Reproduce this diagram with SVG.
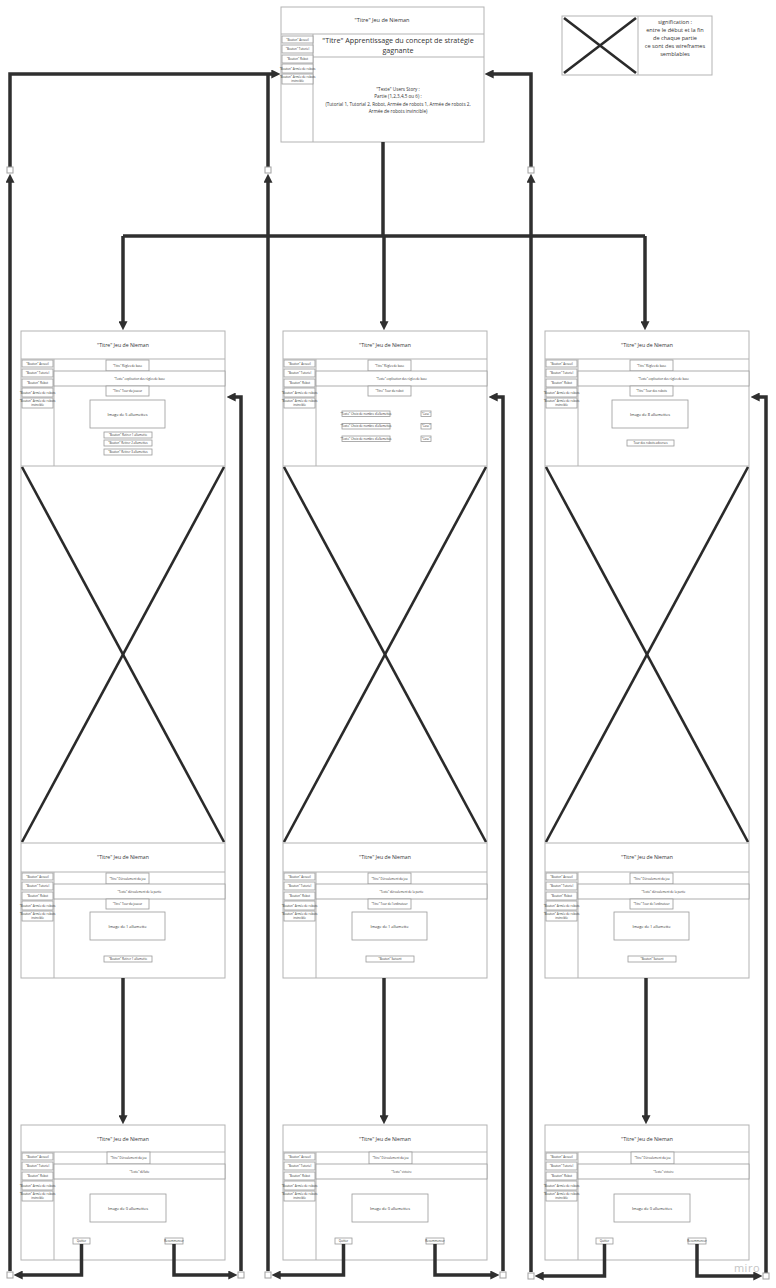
<svg xmlns="http://www.w3.org/2000/svg" width="776" height="1288" viewBox="0 0 776 1288">
<style>
.fr{fill:#fff;stroke:#b3b3b3;stroke-width:1}
.ln{stroke:#b3b3b3;stroke-width:1;fill:none}
.bx{fill:#fff;stroke:#9a9a9a;stroke-width:0.8}
.t{font-family:"Open Sans","Liberation Sans",sans-serif;fill:#333;text-anchor:middle}
.xs{font-size:2.9px}
.sm{font-size:3.3px}
.im{font-size:3.9px}
.ti{font-size:5.2px}
.con{stroke:#2f2f2f;stroke-width:3.5;fill:none}
.cr{stroke:#2a2a2a;stroke-width:2.6}
.sq{fill:#fff;stroke:#a0a0a0;stroke-width:1}
</style>
<defs>
<marker id="ah" viewBox="0 0 10 10" refX="3" refY="5" markerWidth="9" markerHeight="9" markerUnits="userSpaceOnUse" orient="auto"><path d="M0,0 L10,5 L0,10 z" fill="#2f2f2f"/></marker>
<g id="side">
<rect class="bx" x="1" y="0" width="31" height="7"/>
<rect class="bx" x="1" y="9" width="31" height="8"/>
<rect class="bx" x="1" y="19" width="31" height="8"/>
<rect class="bx" x="1" y="28" width="31" height="9"/>
<rect class="bx" x="1" y="38" width="31" height="10"/>
<text class="t xs" x="16.5" y="4.6">"Bouton" Accueil</text>
<text class="t xs" x="16.5" y="14">"Bouton" Tutoriel</text>
<text class="t xs" x="16.5" y="24">"Bouton" Robot</text>
<text class="t xs" x="16.5" y="33.5">"Bouton" Armée de robots</text>
<text class="t xs" x="16.5" y="42">"Bouton" Armée de robots</text>
<text class="t xs" x="16.5" y="46">invincible</text>
</g>
<g id="head">
<rect class="fr" x="0" y="0" width="204" height="0"/>
<text class="t ti" x="102" y="17">"Titre" Jeu de Nieman</text>
<line class="ln" x1="0" y1="28" x2="204" y2="28"/>
</g>
</defs>

<g id="main">
<rect class="fr" x="281" y="7" width="203" height="135"/>
<text class="t" style="font-size:5.5px" x="382" y="22">"Titre" Jeu de Nieman</text>
<line class="ln" x1="281" y1="34" x2="484" y2="34"/>
<line class="ln" x1="313" y1="34" x2="313" y2="142"/>
<line class="ln" x1="313" y1="57" x2="484" y2="57"/>
<use href="#side" transform="translate(281,36)"/>
<text class="t" style="font-size:7.2px" x="398" y="43">"Titre" Apprentissage du concept de stratégie</text>
<text class="t" style="font-size:7.2px" x="398" y="53">gagnante</text>
<text class="t" style="font-size:4.6px" x="398" y="91">"Texte" Users Story :</text>
<text class="t" style="font-size:4.6px" x="398" y="98">Partie (1,2,3,4,5 ou 6) :</text>
<text class="t" style="font-size:4.6px" x="398" y="105.5">(Tutorial 1, Tutorial 2, Robot, Armée de robots 1, Armée de robots 2,</text>
<text class="t" style="font-size:4.6px" x="398" y="113">Armée de robots invincible)</text>
</g>

<g id="legend">
<rect class="fr" x="562" y="16" width="150" height="59"/>
<line class="ln" x1="638" y1="16" x2="638" y2="75"/>
<line class="cr" x1="564" y1="18" x2="636" y2="73"/>
<line class="cr" x1="636" y1="18" x2="564" y2="73"/>
<text class="t" style="font-size:5.6px" x="675" y="24">signification :</text>
<text class="t" style="font-size:5.6px" x="675" y="32">entre le début et la fin</text>
<text class="t" style="font-size:5.6px" x="675" y="40">de chaque partie</text>
<text class="t" style="font-size:5.6px" x="675" y="48">ce sont des wireframes</text>
<text class="t" style="font-size:5.6px" x="675" y="56">semblables</text>
</g>

<!-- Left column upper frame -->
<g id="left-upper" transform="translate(21,0)">
<rect class="fr" x="0" y="331" width="204" height="647"/>
<text class="t ti" x="102" y="347">"Titre" Jeu de Nieman</text>
<line class="ln" x1="0" y1="359" x2="204" y2="359"/>
<line class="ln" x1="33" y1="359" x2="33" y2="466"/>
<use href="#side" transform="translate(0,360)"/>
<rect class="bx" x="85" y="360" width="43" height="11"/>
<text class="t xs" x="106.5" y="366.5">"Titre" Règles de base</text>
<rect class="bx" x="33" y="371" width="171" height="15"/>
<text class="t xs" x="118.5" y="379.5">"Texte" explication des règles de base</text>
<rect class="bx" x="85" y="386" width="43" height="10"/>
<text class="t xs" x="106.5" y="392">"Titre" Tour du joueur</text>
<rect class="bx" x="69" y="400" width="75" height="28"/>
<text class="t im" x="106.5" y="415.5">Image de 5 allumettes</text>
<rect class="bx" x="83" y="432" width="48" height="6"/>
<rect class="bx" x="83" y="440" width="48" height="6"/>
<rect class="bx" x="83" y="449" width="48" height="6"/>
<text class="t xs" x="107" y="436">"Bouton" Retirer 1 allumette</text>
<text class="t xs" x="107" y="444">"Bouton" Retirer 2 allumettes</text>
<text class="t xs" x="107" y="453">"Bouton" Retirer 3 allumettes</text>
<line class="ln" x1="0" y1="466" x2="204" y2="466"/>
<line class="cr" x1="1" y1="467" x2="203" y2="842"/>
<line class="cr" x1="203" y1="467" x2="1" y2="842"/>
<line class="ln" x1="0" y1="843" x2="204" y2="843"/>
<text class="t ti" x="102" y="859">"Titre" Jeu de Nieman</text>
<line class="ln" x1="0" y1="872" x2="204" y2="872"/>
<line class="ln" x1="33" y1="872" x2="33" y2="978"/>
<use href="#side" transform="translate(0,873)"/>
<rect class="bx" x="85" y="873" width="43" height="11"/>
<text class="t xs" x="106.5" y="879.5">"Titre" Déroulement du jeu</text>
<rect class="bx" x="33" y="884" width="171" height="15"/>
<text class="t xs" x="118.5" y="892.5">"Texte" déroulement de la partie</text>
<rect class="bx" x="85" y="899" width="43" height="10"/>
<text class="t xs" x="106.5" y="905">"Titre" Tour du joueur</text>
<rect class="bx" x="69" y="912" width="75" height="28"/>
<text class="t im" x="106.5" y="927.5">Image de 1 allumette</text>
<rect class="bx" x="83" y="956" width="48" height="6"/>
<text class="t xs" x="107" y="960">"Bouton" Retirer 1 allumette</text>
</g>

<!-- Middle column upper frame -->
<g id="middle-upper" transform="translate(283,0)">
<rect class="fr" x="0" y="331" width="204" height="647"/>
<text class="t ti" x="102" y="347">"Titre" Jeu de Nieman</text>
<line class="ln" x1="0" y1="359" x2="204" y2="359"/>
<line class="ln" x1="33" y1="359" x2="33" y2="466"/>
<use href="#side" transform="translate(0,360)"/>
<rect class="bx" x="85" y="360" width="43" height="11"/>
<text class="t xs" x="106.5" y="366.5">"Titre" Règles de base</text>
<rect class="bx" x="33" y="371" width="171" height="15"/>
<text class="t xs" x="118.5" y="379.5">"Texte" explication des règles de base</text>
<rect class="bx" x="85" y="386" width="43" height="10"/>
<text class="t xs" x="106.5" y="392">"Titre" Tour du robot</text>
<rect class="bx" x="59" y="411" width="48" height="5.5"/>
<rect class="bx" x="59" y="423.5" width="48" height="5.5"/>
<rect class="bx" x="59" y="436" width="48" height="5.5"/>
<text class="t xs" x="83" y="414.8">"Texte" Choix de nombre d'allumettes</text>
<text class="t xs" x="83" y="427.3">"Texte" Choix de nombre d'allumettes</text>
<text class="t xs" x="83" y="439.8">"Texte" Choix de nombre d'allumettes</text>
<rect class="bx" x="138" y="411" width="10" height="5.5"/>
<rect class="bx" x="138" y="423.5" width="10" height="5.5"/>
<rect class="bx" x="138" y="436" width="10" height="5.5"/>
<text class="t xs" x="143" y="414.8">"Case"</text>
<text class="t xs" x="143" y="427.3">"Case"</text>
<text class="t xs" x="143" y="439.8">"Case"</text>
<line class="ln" x1="0" y1="466" x2="204" y2="466"/>
<line class="cr" x1="1" y1="467" x2="203" y2="842"/>
<line class="cr" x1="203" y1="467" x2="1" y2="842"/>
<line class="ln" x1="0" y1="843" x2="204" y2="843"/>
<text class="t ti" x="102" y="859">"Titre" Jeu de Nieman</text>
<line class="ln" x1="0" y1="872" x2="204" y2="872"/>
<line class="ln" x1="33" y1="872" x2="33" y2="978"/>
<use href="#side" transform="translate(0,873)"/>
<rect class="bx" x="85" y="873" width="43" height="11"/>
<text class="t xs" x="106.5" y="879.5">"Titre" Déroulement du jeu</text>
<rect class="bx" x="33" y="884" width="171" height="15"/>
<text class="t xs" x="118.5" y="892.5">"Texte" déroulement de la partie</text>
<rect class="bx" x="85" y="899" width="43" height="10"/>
<text class="t xs" x="106.5" y="905">"Titre" Tour de l'ordinateur</text>
<rect class="bx" x="69" y="912" width="75" height="28"/>
<text class="t im" x="106.5" y="927.5">Image de 1 allumette</text>
<rect class="bx" x="83" y="956" width="48" height="6"/>
<text class="t xs" x="107" y="960">"Bouton" Suivant</text>
</g>

<!-- Right column upper frame -->
<g id="right-upper" transform="translate(545,0)">
<rect class="fr" x="0" y="331" width="204" height="647"/>
<text class="t ti" x="102" y="347">"Titre" Jeu de Nieman</text>
<line class="ln" x1="0" y1="359" x2="204" y2="359"/>
<line class="ln" x1="33" y1="359" x2="33" y2="466"/>
<use href="#side" transform="translate(0,360)"/>
<rect class="bx" x="85" y="360" width="43" height="11"/>
<text class="t xs" x="106.5" y="366.5">"Titre" Règles de base</text>
<rect class="bx" x="33" y="371" width="171" height="15"/>
<text class="t xs" x="118.5" y="379.5">"Texte" explication des règles de base</text>
<rect class="bx" x="85" y="386" width="43" height="10"/>
<text class="t xs" x="106.5" y="392">"Titre" Tour des robots</text>
<rect class="bx" x="67" y="400" width="76" height="28"/>
<text class="t im" x="105" y="415.5">Image de 8 allumettes</text>
<rect class="bx" x="82" y="440" width="47" height="6"/>
<text class="t xs" x="105.5" y="444">Tour des robots adverses</text>
<line class="ln" x1="0" y1="466" x2="204" y2="466"/>
<line class="cr" x1="1" y1="467" x2="203" y2="842"/>
<line class="cr" x1="203" y1="467" x2="1" y2="842"/>
<line class="ln" x1="0" y1="843" x2="204" y2="843"/>
<text class="t ti" x="102" y="859">"Titre" Jeu de Nieman</text>
<line class="ln" x1="0" y1="872" x2="204" y2="872"/>
<line class="ln" x1="33" y1="872" x2="33" y2="978"/>
<use href="#side" transform="translate(0,873)"/>
<rect class="bx" x="85" y="873" width="43" height="11"/>
<text class="t xs" x="106.5" y="879.5">"Titre" Déroulement du jeu</text>
<rect class="bx" x="33" y="884" width="171" height="15"/>
<text class="t xs" x="118.5" y="892.5">"Texte" déroulement de la partie</text>
<rect class="bx" x="85" y="899" width="43" height="10"/>
<text class="t xs" x="106.5" y="905">"Titre" Tour de l'ordinateur</text>
<rect class="bx" x="69" y="912" width="75" height="28"/>
<text class="t im" x="106.5" y="927.5">Image de 1 allumette</text>
<rect class="bx" x="83" y="956" width="48" height="6"/>
<text class="t xs" x="107" y="960">"Bouton" Suivant</text>
</g>

<!-- Bottom frames -->
<g id="left-bottom" transform="translate(21,0)">
<rect class="fr" x="0" y="1125" width="204" height="135"/>
<text class="t ti" x="102" y="1141">"Titre" Jeu de Nieman</text>
<line class="ln" x1="0" y1="1152" x2="204" y2="1152"/>
<line class="ln" x1="33" y1="1152" x2="33" y2="1260"/>
<use href="#side" transform="translate(0,1153)"/>
<rect class="bx" x="86" y="1152" width="43" height="12"/>
<text class="t xs" x="107.5" y="1159">"Titre" Déroulement du jeu</text>
<rect class="bx" x="33" y="1164" width="171" height="15"/>
<text class="t xs" x="118.5" y="1172.5">"Texte" défaite</text>
<rect class="bx" x="69" y="1194" width="76" height="28"/>
<text class="t im" x="107" y="1209.5">Image de 0 allumettes</text>
<rect class="bx" x="52" y="1238" width="17" height="6"/>
<text class="t xs" x="60.5" y="1242">Quitter</text>
<rect class="bx" x="144" y="1238" width="18" height="6"/>
<text class="t xs" x="153" y="1242">Recommencer</text>
</g>
<g id="middle-bottom" transform="translate(283,0)">
<rect class="fr" x="0" y="1125" width="204" height="135"/>
<text class="t ti" x="102" y="1141">"Titre" Jeu de Nieman</text>
<line class="ln" x1="0" y1="1152" x2="204" y2="1152"/>
<line class="ln" x1="33" y1="1152" x2="33" y2="1260"/>
<use href="#side" transform="translate(0,1153)"/>
<rect class="bx" x="86" y="1152" width="43" height="12"/>
<text class="t xs" x="107.5" y="1159">"Titre" Déroulement du jeu</text>
<rect class="bx" x="33" y="1164" width="171" height="15"/>
<text class="t xs" x="118.5" y="1172.5">"Texte" victoire</text>
<rect class="bx" x="69" y="1194" width="76" height="28"/>
<text class="t im" x="107" y="1209.5">Image de 0 allumettes</text>
<rect class="bx" x="52" y="1238" width="17" height="6"/>
<text class="t xs" x="60.5" y="1242">Quitter</text>
<rect class="bx" x="143" y="1238" width="18" height="6"/>
<text class="t xs" x="152" y="1242">Recommencer</text>
</g>
<g id="right-bottom" transform="translate(545,0)">
<rect class="fr" x="0" y="1125" width="204" height="135"/>
<text class="t ti" x="102" y="1141">"Titre" Jeu de Nieman</text>
<line class="ln" x1="0" y1="1152" x2="204" y2="1152"/>
<line class="ln" x1="33" y1="1152" x2="33" y2="1260"/>
<use href="#side" transform="translate(0,1153)"/>
<rect class="bx" x="86" y="1152" width="43" height="12"/>
<text class="t xs" x="107.5" y="1159">"Titre" Déroulement du jeu</text>
<rect class="bx" x="33" y="1164" width="171" height="15"/>
<text class="t xs" x="118.5" y="1172.5">"Texte" victoire</text>
<rect class="bx" x="69" y="1194" width="76" height="28"/>
<text class="t im" x="107" y="1209.5">Image de 0 allumettes</text>
<rect class="bx" x="51" y="1238" width="17" height="6"/>
<text class="t xs" x="59.5" y="1242">Quitter</text>
<rect class="bx" x="143" y="1238" width="18" height="6"/>
<text class="t xs" x="152" y="1242">Recommencer</text>
</g>

<g id="connectors">
<!-- main to parts -->
<path class="con" d="M383,142 V236"/>
<path class="con" d="M123,236 H645"/>
<path class="con" marker-end="url(#ah)" d="M123,236 V324"/>
<path class="con" marker-end="url(#ah)" d="M384,236 V324"/>
<path class="con" marker-end="url(#ah)" d="M645,236 V324"/>
<!-- upper to bottom -->
<path class="con" marker-end="url(#ah)" d="M123,978 V1118"/>
<path class="con" marker-end="url(#ah)" d="M384,978 V1118"/>
<path class="con" marker-end="url(#ah)" d="M646,978 V1118"/>
<!-- back to main -->
<path class="con" marker-end="url(#ah)" d="M10,167 V74 H274"/>
<path class="con" d="M268,167 V74"/>
<path class="con" marker-end="url(#ah)" d="M531,167 V74 H491"/>
<!-- long verticals up -->
<path class="con" marker-end="url(#ah)" d="M10,1271 V180"/>
<path class="con" marker-end="url(#ah)" d="M268,1271 V180"/>
<path class="con" marker-end="url(#ah)" d="M531,1272 V180"/>
<!-- recommencer loops -->
<path class="con" marker-end="url(#ah)" d="M241,1271 V397 H233"/>
<path class="con" marker-end="url(#ah)" d="M503,1271 V397 H495"/>
<path class="con" marker-end="url(#ah)" d="M766,1273 V397 H757"/>
<!-- bottom buttons -->
<path class="con" marker-end="url(#ah)" d="M81.5,1244 V1275 H20"/>
<path class="con" marker-end="url(#ah)" d="M174,1244 V1275 H231"/>
<path class="con" marker-end="url(#ah)" d="M343.5,1244 V1275 H278"/>
<path class="con" marker-end="url(#ah)" d="M435,1244 V1275 H493"/>
<path class="con" marker-end="url(#ah)" d="M604.5,1244 V1276 H541"/>
<path class="con" marker-end="url(#ah)" d="M697,1244 V1276 H756"/>
<rect class="sq" x="7" y="167" width="6" height="6"/>
<rect class="sq" x="265" y="167" width="6" height="6"/>
<rect class="sq" x="528" y="167" width="6" height="6"/>
<rect class="sq" x="7" y="1272" width="6" height="6"/>
<rect class="sq" x="238" y="1272" width="6" height="6"/>
<rect class="sq" x="265" y="1272" width="6" height="6"/>
<rect class="sq" x="500" y="1272" width="6" height="6"/>
<rect class="sq" x="528" y="1273" width="6" height="6"/>
<rect class="sq" x="763" y="1273" width="6" height="6"/>
</g>
<text x="760" y="1272" style="font-family:'Open Sans','Liberation Sans',sans-serif;font-size:11px;fill:#c4c4c4;text-anchor:end;letter-spacing:0.5px">miro</text>
</svg>
